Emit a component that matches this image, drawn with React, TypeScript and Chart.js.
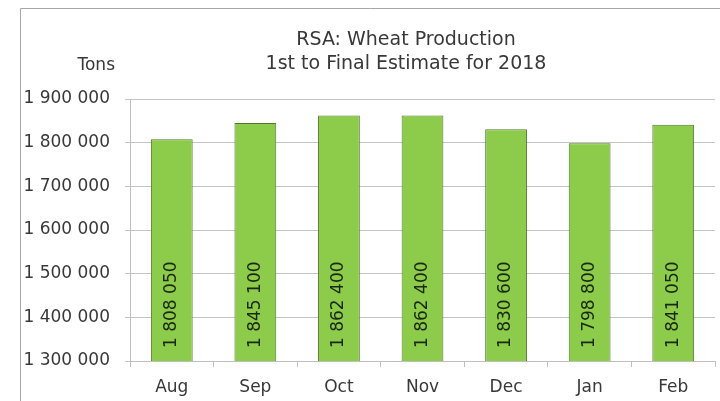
import React, { useEffect, useRef } from "react";
import { Chart, registerables } from "chart.js";

Chart.register(...registerables);

const categories = ["Aug", "Sep", "Oct", "Nov", "Dec", "Jan", "Feb"];
const production = [1808050, 1845100, 1862400, 1862400, 1830600, 1798800, 1841050];
const titleLines = ["RSA: Wheat Production", "1st to Final Estimate for 2018"];
const unitLabel = "Tons";
const yMin = 1300000;
const yMax = 1900000;
const yStep = 100000;

const FONT = "'DejaVu Sans', Verdana, sans-serif";
const TEXT = "#383838";

function fmt(v: number): string {
  return Math.round(v)
    .toString()
    .replace(/\B(?=(\d{3})+(?!\d))/g, " ");
}

const decorPlugin = {
  id: "decor",
  beforeDraw(chart: any) {
    const ctx = chart.ctx;
    ctx.save();
    ctx.fillStyle = "#ffffff";
    ctx.fillRect(0, 0, chart.width, chart.height);
    ctx.strokeStyle = "#a6a6a6";
    ctx.lineWidth = 1;
    ctx.beginPath();
    ctx.moveTo(20.5, chart.height);
    ctx.lineTo(20.5, 8.5);
    ctx.lineTo(chart.width, 8.5);
    ctx.stroke();
    ctx.restore();
  },
  afterDraw(chart: any) {
    const ctx = chart.ctx;
    const area = chart.chartArea;
    ctx.save();
    ctx.fillStyle = TEXT;
    ctx.textAlign = "center";
    ctx.textBaseline = "middle";
    ctx.font = `19px ${FONT}`;
    ctx.fillText(titleLines[0], 406, 40);
    ctx.fillText(titleLines[1], 406, 64);
    ctx.font = `17px ${FONT}`;
    ctx.textAlign = "right";
    ctx.fillText(unitLabel, 115, 66);

    const meta = chart.getDatasetMeta(0);
    ctx.fillStyle = "#1a280e";
    ctx.font = `17px ${FONT}`;
    ctx.textAlign = "left";
    meta.data.forEach((bar: any, i: number) => {
      ctx.save();
      ctx.translate(bar.x, area.bottom - 13);
      ctx.rotate(-Math.PI / 2);
      ctx.fillText(fmt(production[i]), 0, 0);
      ctx.restore();
    });
    ctx.restore();
  },
};

export default function App() {
  const ref = useRef<HTMLCanvasElement | null>(null);
  useEffect(() => {
    if (!ref.current) return;
    const chart = new Chart(ref.current, {
      type: "bar",
      data: {
        labels: categories,
        datasets: [
          {
            data: production,
            backgroundColor: "#8DCB4B",
            borderColor: "#52792C",
            borderWidth: 1,
            borderSkipped: false,
            barPercentage: 0.5,
            categoryPercentage: 1,
          },
        ],
      },
      options: {
        animation: false,
        responsive: false,
        devicePixelRatio: 1,
        layout: { padding: { left: 0, right: 5, top: 99, bottom: 0 } },
        plugins: {
          legend: { display: false },
          title: { display: false },
          tooltip: { enabled: false },
        },
        scales: {
          x: {
            grid: {
              display: true,
              drawOnChartArea: false,
              offset: true,
              tickLength: 6,
              color: "#bfbfbf",
            },
            border: { color: "#bfbfbf" },
            ticks: {
              padding: 10,
              color: TEXT,
              font: { family: FONT, size: 17 },
            },
            afterFit(scale: any) {
              scale.height = 40;
            },
          },
          y: {
            min: yMin,
            max: yMax,
            grid: { color: "#c4c4c4", tickLength: 5 },
            border: { color: "#bfbfbf" },
            ticks: {
              stepSize: yStep,
              padding: 15,
              color: TEXT,
              font: { family: FONT, size: 17 },
              callback: (v: any) => fmt(Number(v)),
            },
            afterFit(scale: any) {
              scale.width = 130;
            },
          },
        },
      },
      plugins: [decorPlugin],
    });
    return () => chart.destroy();
  }, []);
  return (
    <div style={{ position: "absolute", left: 0, top: 0, width: 720, height: 401 }}>
      <canvas ref={ref} width={720} height={401} style={{ width: 720, height: 401 }} />
    </div>
  );
}
